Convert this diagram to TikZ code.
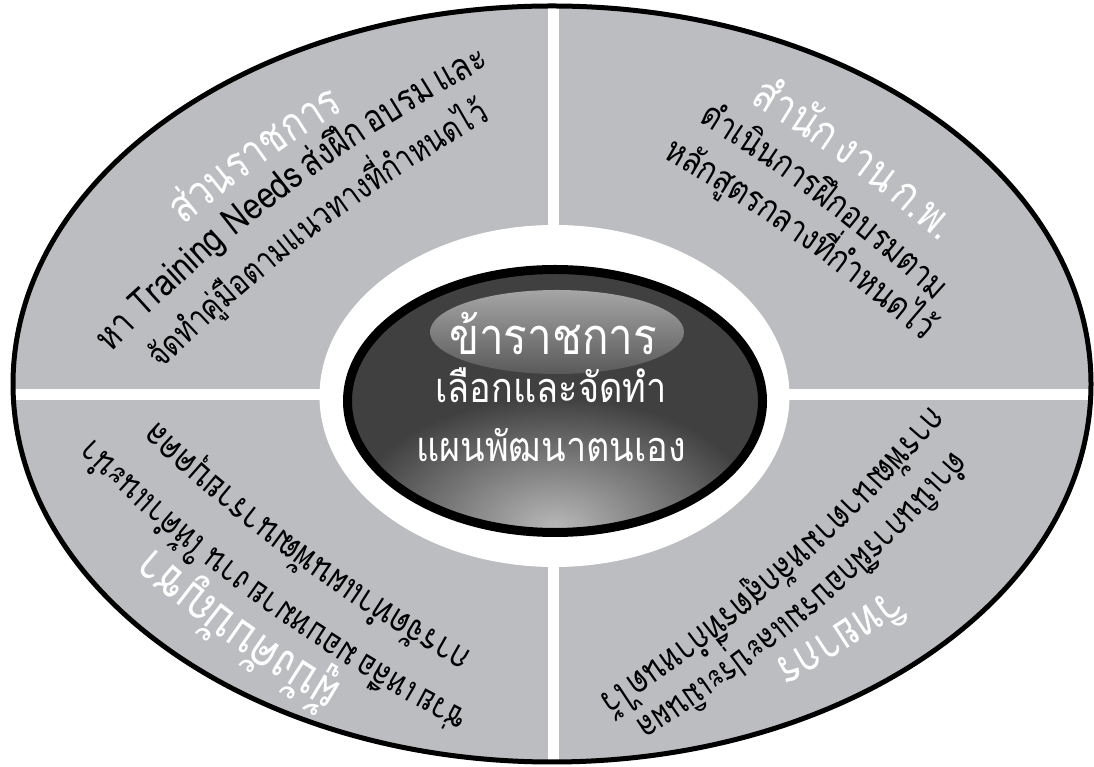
\documentclass[tikz,border=0pt]{standalone}
\usepackage{fontspec}
\newfontfamily\thaifont[Script=Thai]{Loma}
\definecolor{quadgray}{RGB}{188,189,193}
\definecolor{coregray}{RGB}{64,64,64}
\newcommand\ttlfont{\thaifont\fontsize{34}{40}\selectfont}
\newcommand\txtfont{\thaifont\fontsize{26}{30}\selectfont}
\newcommand\midfont{\thaifont\fontsize{36}{42}\selectfont}
\newdimen\arcwd
\newdimen\arcone
\newsavebox\arcbox
% width of one chunk, measured outside the picture
\newcommand\arcmeasure[2]{\pgfinterruptpicture\sbox\arcbox{\normalfont#1#2}\global\arcone=\wd\arcbox\endpgfinterruptpicture}
% text bent along an arc: start x,y and end x,y (image pixels), radius, style, font, chunks
\newcommand\arcline[8]{%
  \pgfmathsetmacro\arcax{#1}\pgfmathsetmacro\arcay{767-#2}%
  \pgfmathsetmacro\arcbx{#3}\pgfmathsetmacro\arcby{767-#4}%
  \pgfmathsetmacro\arcchord{100*sqrt(((\arcbx-\arcax)/100)^2+((\arcby-\arcay)/100)^2)}%
  \pgfmathsetmacro\archead{atan2(\arcby-\arcay,\arcbx-\arcax)}%
  \pgfmathsetmacro\archalf{asin(\arcchord/(2*#5))}%
  \pgfmathsetmacro\arccx{(\arcax+\arcbx)/2+#5*cos(\archalf)*cos(\archead-90)}%
  \pgfmathsetmacro\arccy{(\arcay+\arcby)/2+#5*cos(\archalf)*sin(\archead-90)}%
  \global\arcwd=0pt
  \foreach \w in {#8}{\arcmeasure{#7}{\w}\global\advance\arcwd by \arcone}%
  \pgfmathsetmacro\arclen{(2*\archalf*pi/180)*#5}%
  \pgfmathsetmacro\arcfit{\arclen/\the\arcwd}%
  \pgfmathsetmacro\arctall{1.22*\arcfit}%
  \pgfmathsetmacro\arcstart{\archead+90+\archalf}\xdef\curang{\arcstart}%
  \foreach \w in {#8}{\arcmeasure{#7}{\w}%
    \pgfmathsetmacro\arcda{(\arcfit*\the\arcone/#5)*57.2958}%
    \pgfmathsetmacro\arcmid{\curang-\arcda/2}%
    \node[#6, rotate=\arcmid-90, xscale=\arcfit, yscale=\arctall] at ([shift={(\arcmid:#5)}]\arccx,\arccy) {\w};
    \pgfmathsetmacro\arcnext{\curang-\arcda}\xdef\curang{\arcnext}}%
}
\begin{document}
\begin{tikzpicture}[x=1pt, y=1pt,
    quadtitle/.style = {text=white, font=\ttlfont, anchor=base, inner sep=0pt},
    quadtext/.style = {text=black, font=\txtfont, anchor=base, inner sep=0pt},
    midtext/.style = {text=white, anchor=base, inner sep=0pt, yscale=1.15}]
  \useasboundingbox (0,0) rectangle (1094,767);
  \fill[quadgray] (552,383) ellipse [x radius=539, y radius=378];
  \begin{scope}
    \clip (552,383) ellipse [x radius=539, y radius=378];
    \draw[white, line width=11pt] (553,0) -- (553,767);
    \draw[white, line width=11pt] (0,372) -- (1094,372);
  \end{scope}
  \draw[line width=5pt] (552,383) ellipse [x radius=539, y radius=378];
  \fill[white] (554.5,371) ellipse [x radius=235, y radius=171];
  \begin{scope}
    \clip (555,366) ellipse [x radius=208, y radius=132];
    \fill[coregray] (555,366) ellipse [x radius=208, y radius=132];
    \shade[inner color=black!28, outer color=coregray] (555,240) ellipse [x radius=210, y radius=130];
  \end{scope}
  \draw[line width=9pt] (555,366) ellipse [x radius=207.5, y radius=131.5];
  \shade[top color=black!35, bottom color=black!65] (557,435) ellipse [x radius=127, y radius=42];
  \node[midtext, font=\thaifont\fontsize{44}{50}\selectfont] (official) at (553,412) {ข้าราชการ};
  \node[midtext, font=\midfont] (choose) at (551,364) {เลือกและจัดทำ};
  \node[midtext, font=\midfont] (plan) at (551,305) {แผนพัฒนาตนเอง};
  % top left
  \arcline{184}{226}{345}{110}{1200}{quadtitle}{\ttlfont}{ส่วน,ราช,การ}
  \arcline{107}{357}{490}{66}{1500}{quadtext}{\txtfont}{หา~,Training~,Needs~,ส่ง,ฝึก,อบรม~,และ}
  \arcline{162}{370}{491}{120}{1500}{quadtext}{\txtfont}{จัด,ทำ,คู่,มือ,ตาม,แนว,ทาง,ที่,กำ,หนด,ไว้}
  % top right
  \arcline{749}{103}{940}{243}{1200}{quadtitle}{\ttlfont}{สำ,นัก,งาน~,ก.พ.}
  \arcline{698}{122}{935}{302}{1500}{quadtext}{\txtfont}{ดำ,เนิน,การ,ฝึก,อบ,รม,ตาม}
  \arcline{662}{158}{923}{342}{1500}{quadtext}{\txtfont}{หลัก,สูตร,กลาง,ที่,กำ,หนด,ไว้}
  % bottom right
  \arcline{889}{588}{773}{662}{1200}{quadtitle}{\ttlfont}{วิ,ทยา,กร}
  \arcline{953}{450}{635}{722}{1500}{quadtext}{\txtfont}{ดำ,เนิน,การ,ฝึก,อบ,รม,และ,ประ,เมิน,ผล}
  \arcline{930}{405}{598}{697}{1500}{quadtext}{\txtfont}{การ,พัฒ,นา,ตาม,หลัก,สูตร,ที่,กำ,หนด,ไว้}
  % bottom left
  \arcline{343}{685}{153}{547}{1200}{quadtitle}{\ttlfont}{ผู้,บัง,คับ,บัญ,ชา}
  \arcline{470}{712}{93}{438}{1500}{quadtext}{\txtfont}{ช่วย,เหลือ~,มอบ,หมาย,งาน~,ให้,คำ,แนะ,นำ}
  \arcline{473}{652}{157}{421}{1500}{quadtext}{\txtfont}{การ,จัด,ทำ,แผน,พัฒ,นา,ราย,บุค,คล}
\end{tikzpicture}
\end{document}
